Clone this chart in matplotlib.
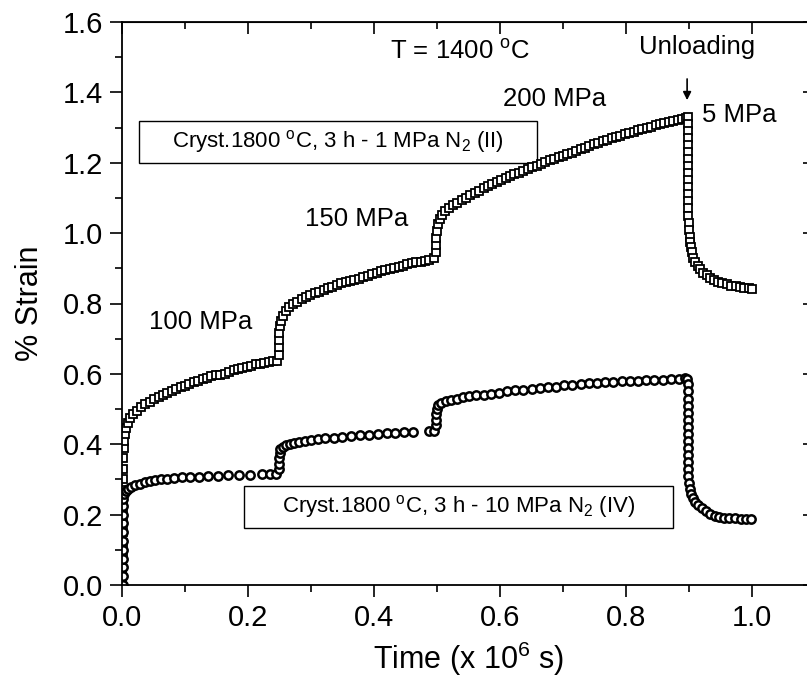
import matplotlib
matplotlib.use("Agg")
import matplotlib.pyplot as plt
from matplotlib.patches import Rectangle
from matplotlib.ticker import MultipleLocator

plt.rcParams["font.family"] = ["Liberation Sans", "DejaVu Sans"]
plt.rcParams["mathtext.fontset"] = "custom"
plt.rcParams["mathtext.rm"] = "Liberation Sans"
plt.rcParams["mathtext.it"] = "Liberation Sans:italic"

# ---------------------------------------------------------------------------
# Data: time (x 10^6 s) vs % strain
# ---------------------------------------------------------------------------
# Cryst. 1800 C, 3 h - 1 MPa N2 (II)  -> open squares
time_ii = [
    0.0005, 0.0005, 0.0007, 0.0008, 0.0010, 0.0010, 0.0012, 0.0013, 0.0014, 0.0015,
    0.0016, 0.0018, 0.0020, 0.0025, 0.003, 0.004, 0.006, 0.009, 0.013,
    0.018, 0.024, 0.030, 0.037, 0.044, 0.051, 0.058, 0.065, 0.072, 0.079,
    0.086, 0.093, 0.100, 0.107, 0.114, 0.121, 0.128, 0.135, 0.142, 0.149,
    0.156, 0.163, 0.170, 0.177, 0.184, 0.191, 0.198, 0.205, 0.212, 0.219,
    0.226, 0.233, 0.240, 0.246,
    0.249, 0.249, 0.249, 0.249, 0.250, 0.252, 0.256, 0.260, 0.265, 0.271,
    0.278, 0.285, 0.292, 0.299, 0.306, 0.313, 0.320, 0.327, 0.334, 0.341,
    0.348, 0.355, 0.362, 0.369, 0.376, 0.383, 0.390, 0.397, 0.404, 0.411,
    0.418, 0.425, 0.432, 0.439, 0.446, 0.453, 0.460, 0.467, 0.474, 0.481,
    0.488, 0.495,
    0.499, 0.499, 0.499, 0.500, 0.501, 0.504, 0.508, 0.513, 0.519, 0.525,
    0.532, 0.539, 0.546, 0.553, 0.560, 0.567, 0.574, 0.581, 0.588, 0.595,
    0.602, 0.609, 0.616, 0.623, 0.630, 0.637, 0.644, 0.651, 0.658, 0.665,
    0.672, 0.679, 0.686, 0.693, 0.700, 0.707, 0.714, 0.721, 0.728, 0.735,
    0.742, 0.749, 0.756, 0.763, 0.770, 0.777, 0.784, 0.791, 0.798, 0.805,
    0.812, 0.819, 0.826, 0.833, 0.840, 0.847, 0.854, 0.861, 0.868, 0.875,
    0.882, 0.889, 0.895, 0.898,
    0.899, 0.899, 0.899, 0.899, 0.899, 0.899, 0.899, 0.899, 0.899, 0.899,
    0.899, 0.899, 0.899, 0.899, 0.900, 0.900, 0.901, 0.902, 0.903, 0.905,
    0.907, 0.910, 0.914, 0.918, 0.923, 0.928, 0.934, 0.940, 0.946, 0.953,
    0.960, 0.967, 0.974, 0.981, 0.988, 0.995, 1.000,
]
strain_ii = [
    0.00, 0.03, 0.06, 0.09, 0.12, 0.15, 0.18, 0.21, 0.24, 0.27,
    0.30, 0.33, 0.36, 0.39, 0.41, 0.43, 0.445, 0.46, 0.475,
    0.485, 0.495, 0.505, 0.513, 0.521, 0.528, 0.535, 0.541, 0.547, 0.552,
    0.557, 0.562, 0.566, 0.572, 0.577, 0.581, 0.585, 0.589, 0.593, 0.596,
    0.598, 0.600, 0.606, 0.610, 0.613, 0.617, 0.620, 0.623, 0.627, 0.629,
    0.631, 0.633, 0.636, 0.637,
    0.655, 0.675, 0.695, 0.715, 0.735, 0.750, 0.765, 0.778, 0.789, 0.798,
    0.805, 0.812, 0.818, 0.824, 0.829, 0.833, 0.838, 0.843, 0.848, 0.853,
    0.857, 0.861, 0.864, 0.867, 0.871, 0.875, 0.879, 0.883, 0.887, 0.891,
    0.894, 0.897, 0.900, 0.904, 0.907, 0.911, 0.914, 0.917, 0.919, 0.922,
    0.925, 0.928,
    0.945, 0.965, 0.985, 1.005, 1.025, 1.040, 1.052, 1.062, 1.071, 1.079,
    1.087, 1.093, 1.100, 1.107, 1.114, 1.120, 1.127, 1.133, 1.139, 1.145,
    1.151, 1.157, 1.162, 1.167, 1.172, 1.177, 1.182, 1.187, 1.192, 1.197,
    1.202, 1.207, 1.211, 1.216, 1.220, 1.225, 1.229, 1.234, 1.238, 1.243,
    1.247, 1.252, 1.257, 1.262, 1.266, 1.269, 1.273, 1.277, 1.281, 1.285,
    1.288, 1.292, 1.295, 1.299, 1.302, 1.306, 1.309, 1.312, 1.315, 1.318,
    1.321, 1.324, 1.327, 1.329,
    1.31, 1.29, 1.27, 1.25, 1.23, 1.21, 1.19, 1.17, 1.15, 1.13,
    1.11, 1.09, 1.07, 1.05, 1.03, 1.01, 0.99, 0.975, 0.960, 0.945,
    0.930, 0.918, 0.907, 0.897, 0.888, 0.880, 0.873, 0.867, 0.862, 0.858,
    0.854, 0.851, 0.849, 0.847, 0.845, 0.843, 0.842,
]

# Cryst. 1800 C, 3 h - 10 MPa N2 (IV)  -> open circles
time_iv = [
    0.0010, 0.0010, 0.0010, 0.0010, 0.0010, 0.0010, 0.0010, 0.0010, 0.0010, 0.0010,
    0.0015, 0.003, 0.006, 0.010, 0.015, 0.021, 0.028, 0.036, 0.044, 0.053,
    0.062, 0.072, 0.083, 0.095, 0.108, 0.122, 0.137, 0.152, 0.168, 0.185,
    0.203, 0.222, 0.235, 0.245,
    0.249, 0.249, 0.249, 0.250, 0.251, 0.255, 0.260, 0.266, 0.273, 0.281,
    0.290, 0.300, 0.311, 0.323, 0.336, 0.350, 0.364, 0.378, 0.392, 0.406,
    0.420, 0.434, 0.448, 0.462, 0.488, 0.495,
    0.499, 0.499, 0.499, 0.500, 0.502, 0.507, 0.514, 0.522, 0.531, 0.541,
    0.551, 0.562, 0.574, 0.586, 0.598, 0.611, 0.624, 0.637, 0.650, 0.663,
    0.676, 0.689, 0.702, 0.715, 0.728, 0.741, 0.754, 0.767, 0.780, 0.793,
    0.806, 0.819, 0.832, 0.845, 0.858, 0.871, 0.884, 0.893, 0.897,
    0.899, 0.899, 0.899, 0.899, 0.899, 0.899, 0.899, 0.899, 0.899, 0.899,
    0.899, 0.899, 0.899, 0.899, 0.900, 0.901, 0.903, 0.906, 0.910, 0.915,
    0.921, 0.927, 0.934, 0.941, 0.948, 0.956, 0.964, 0.973, 0.982, 0.991,
    0.998,
]
strain_iv = [
    0.000, 0.025, 0.050, 0.075, 0.100, 0.125, 0.150, 0.175, 0.200, 0.225,
    0.245, 0.258, 0.266, 0.273, 0.279, 0.284, 0.288, 0.292, 0.295, 0.298,
    0.300, 0.302, 0.304, 0.306, 0.307, 0.308, 0.310, 0.311, 0.312, 0.313,
    0.314, 0.315, 0.315, 0.316,
    0.330, 0.345, 0.360, 0.375, 0.387, 0.393, 0.397, 0.401, 0.404, 0.407,
    0.410, 0.413, 0.415, 0.417, 0.419, 0.421, 0.423, 0.425, 0.427, 0.429,
    0.431, 0.433, 0.434, 0.436, 0.437, 0.438,
    0.455, 0.470, 0.485, 0.500, 0.512, 0.518, 0.523, 0.527, 0.530, 0.533,
    0.536, 0.539, 0.541, 0.544, 0.547, 0.550, 0.553, 0.555, 0.557, 0.560,
    0.562, 0.564, 0.567, 0.569, 0.571, 0.573, 0.574, 0.576, 0.577, 0.579,
    0.580, 0.581, 0.582, 0.583, 0.584, 0.585, 0.586, 0.587, 0.586,
    0.57, 0.55, 0.53, 0.51, 0.49, 0.47, 0.45, 0.43, 0.41, 0.39,
    0.37, 0.35, 0.33, 0.31, 0.29, 0.272, 0.258, 0.247, 0.237, 0.227,
    0.218, 0.210, 0.203, 0.197, 0.193, 0.191, 0.190, 0.189, 0.188, 0.188,
    0.187,
]

x_ticks = [0.0, 0.2, 0.4, 0.6, 0.8, 1.0]
y_ticks = [0.0, 0.2, 0.4, 0.6, 0.8, 1.0, 1.2, 1.4, 1.6]

label_ii = r"Cryst.1800 $^{\rm o}$C, 3 h - 1 MPa N$_{2}$ (II)"
label_iv = r"Cryst.1800 $^{\rm o}$C, 3 h - 10 MPa N$_{2}$ (IV)"

# ---------------------------------------------------------------------------
# Figure
# ---------------------------------------------------------------------------
fig = plt.figure(figsize=(8.07, 6.89), dpi=100)
# axes run a little past the right edge (the original is cropped there)
ax = fig.add_axes([122 / 807, 104 / 689, 693 / 807, 563 / 689])

ax.plot(time_ii, strain_ii, linestyle="none", marker="s", markersize=6.2,
        markerfacecolor="white", markeredgecolor="black", markeredgewidth=1.3)
ax.plot(time_iv, strain_iv, linestyle="none", marker="o", markersize=6.0,
        markerfacecolor="white", markeredgecolor="black", markeredgewidth=1.8)

ax.set_xlim(0, 1.1)
ax.set_ylim(0, 1.6)
ax.set_xticks(x_ticks)
ax.set_yticks(y_ticks)
ax.xaxis.set_minor_locator(MultipleLocator(0.1))
ax.yaxis.set_minor_locator(MultipleLocator(0.1))
ax.tick_params(which="both", direction="out", top=False, right=False,
               width=1.2, labelsize=21)
ax.tick_params(which="major", length=8.5, pad=5)
ax.tick_params(which="minor", length=5)
for sp in ax.spines.values():
    sp.set_linewidth(1.3)

# top / right ticks point inward, no labels
sec_x = ax.secondary_xaxis("top")
sec_x.set_xticks(x_ticks)
sec_x.xaxis.set_minor_locator(MultipleLocator(0.1))
sec_x.tick_params(which="both", direction="in", labeltop=False, width=1.2)
sec_x.tick_params(which="major", length=8.5)
sec_x.tick_params(which="minor", length=5)
sec_y = ax.secondary_yaxis("right")
sec_y.set_yticks(y_ticks)
sec_y.yaxis.set_minor_locator(MultipleLocator(0.1))
sec_y.tick_params(which="both", direction="in", labelright=False, width=1.2)
sec_y.tick_params(which="major", length=8.5)
sec_y.tick_params(which="minor", length=5)

ax.set_xlabel(r"Time (x 10$^{6}$ s)", fontsize=22, labelpad=6)
ax.set_ylabel("% Strain", fontsize=22, labelpad=13)

# legend-style boxes
ax.add_patch(Rectangle((0.0275, 1.2007), 0.6315, 0.1193, fill=False,
                       edgecolor="black", linewidth=1.0))
ax.text(0.343, 1.260, label_ii, fontsize=16, ha="center", va="center")
ax.add_patch(Rectangle((0.194, 0.161), 0.680, 0.1205, fill=False,
                       edgecolor="black", linewidth=1.0))
ax.text(0.534, 0.222, label_iv, fontsize=16, ha="center", va="center")

# annotations
ax.text(0.537, 1.515, r"T = 1400 $^{\rm o}$C", fontsize=18.5, ha="center", va="center")
ax.text(0.913, 1.530, "Unloading", fontsize=18.5, ha="center", va="center")
ax.annotate("", xy=(0.897, 1.370), xytext=(0.897, 1.446),
            arrowprops=dict(arrowstyle="-|>", color="black", lw=1.2, mutation_scale=12))
ax.text(0.686, 1.382, "200 MPa", fontsize=18.5, ha="center", va="center")
ax.text(0.979, 1.336, "5 MPa", fontsize=18.5, ha="center", va="center")
ax.text(0.373, 1.041, "150 MPa", fontsize=18.5, ha="center", va="center")
ax.text(0.125, 0.748, "100 MPa", fontsize=18.5, ha="center", va="center")

fig.savefig("out.png", dpi=100)
